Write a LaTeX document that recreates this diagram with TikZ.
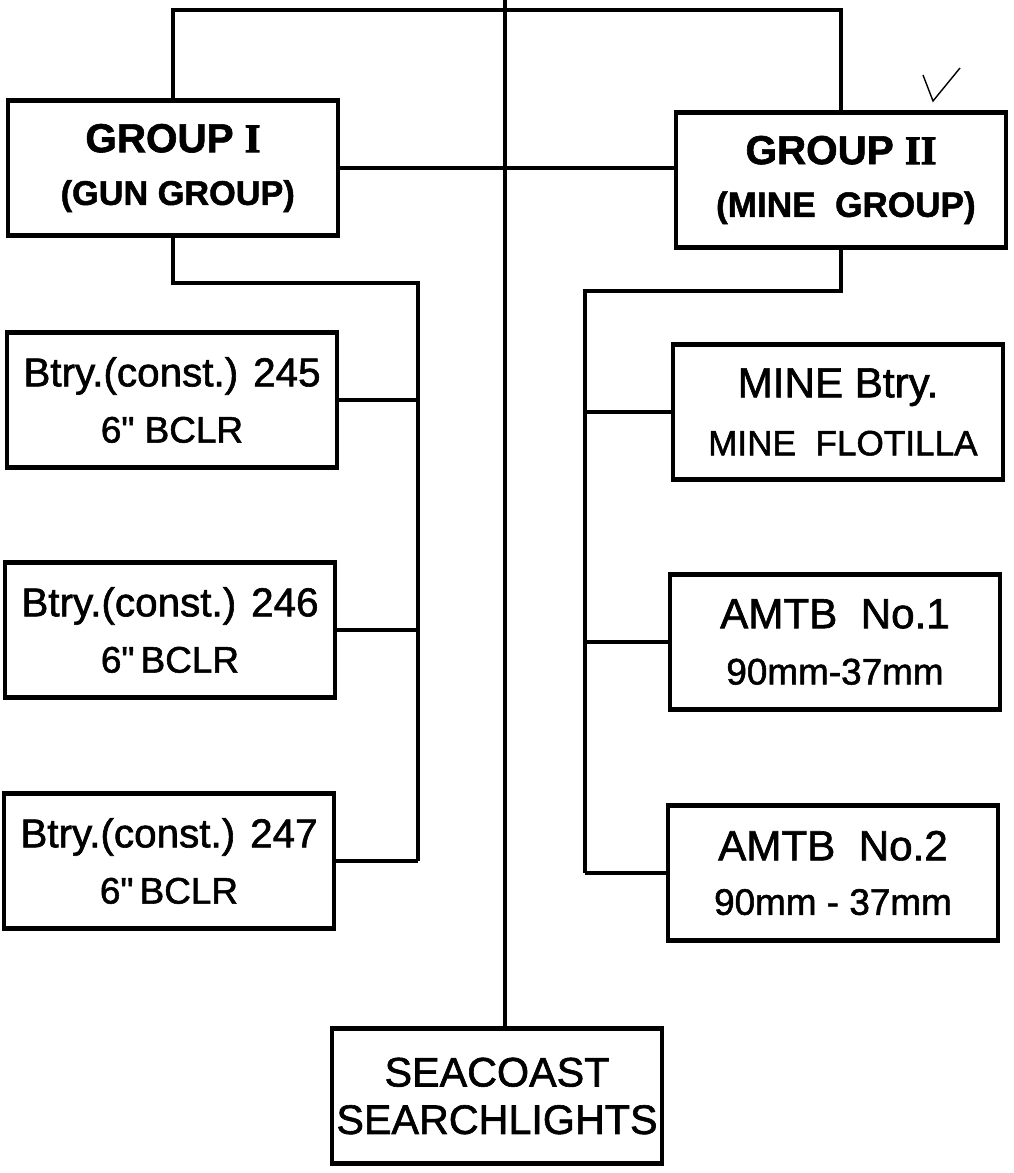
\documentclass[tikz,border=0pt]{standalone}
\usepackage{fontspec}
\setmainfont{Liberation Sans}[Ligatures=TeXOff, FakeBold=1.5]
\newfontfamily\romanfont{Liberation Serif}[FakeBold=2.5]
\usetikzlibrary{positioning, calc}

\newcommand\subline[1][21]{\fontsize{#1}{26}\selectfont}

\begin{document}
\begin{tikzpicture}[
        x=0.02cm, y=-0.02cm,
        unit/.style={rectangle, draw=black, line width=2.4pt, minimum width=6.6cm, minimum height=2.7cm, align=center, inner sep=0pt, font=\fontsize{24}{28}\selectfont},
        battery/.style={unit, font=\fontsize{23}{28}\selectfont},
        group/.style={unit, font=\bfseries\fontsize{23}{28}\selectfont},
        link/.style={line width=2pt, draw=black}
    ]
        \useasboundingbox (0,0) rectangle (1014,1173);

        \node[group] (gun) at (173,168) {GROUP {\romanfont I}\\[2pt]\subline[19.5] (GUN GROUP)};
        \node[group] (minegrp) at (841,180) {GROUP {\romanfont II}\\[2pt]\subline[20] (MINE\ \ GROUP)};

        \node[battery] (b245) at (172,400) {Btry.(const.) 245\\[4pt]\subline 6" BCLR};
        \node[battery] (b246) at (170,630) {Btry.(const.) 246\\[4pt]\subline 6"\,BCLR};
        \node[battery] (b247) at (169,861) {Btry.(const.) 247\\[4pt]\subline 6"\,BCLR};

        \node[unit] (minebtry) at (838,412) {MINE Btry.\\[5pt]\subline[20] MINE\ \ FLOTILLA};
        \node[unit] (amtb1) at (835,642) {AMTB\ \ No.1\\[4pt]\subline 90mm-37mm};
        \node[unit] (amtb2) at (833,873) {AMTB\ \ No.2\\[3pt]\subline 90mm - 37mm};

        \node[unit, font=\fontsize{23.5}{27}\selectfont] (lights) at (497,1096) {SEACOAST\\SEARCHLIGHTS};

        \coordinate (apex) at (505,0);
        \coordinate (bar) at (505,10);
        \coordinate (lbus) at (418,283);
        \coordinate (rbus) at (585,291);

        % command lines
        \draw[link] (apex) -- (apex |- lights.north);
        \draw[link] (gun.north) |- (bar) -| (minegrp.north);
        \draw[link] (gun.east) -- (gun.east -| minegrp.west);

        % gun group
        \draw[link] (gun.south) |- (lbus) -- (lbus |- b247.east);
        \draw[link] (b245.east) -- (b245.east -| lbus);
        \draw[link] (b246.east) -- (b246.east -| lbus);
        \draw[link] (b247.east) -- (b247.east -| lbus);

        % mine group
        \draw[link] (minegrp.south) |- (rbus) -- (rbus |- amtb2.west);
        \draw[link] (minebtry.west) -- (minebtry.west -| rbus);
        \draw[link] (amtb1.west) -- (amtb1.west -| rbus);
        \draw[link] (amtb2.west) -- (amtb2.west -| rbus);

        \draw[line width=0.8pt] (923,75) -- (933,101) -- (960,68);
    \end{tikzpicture}
\end{document}
